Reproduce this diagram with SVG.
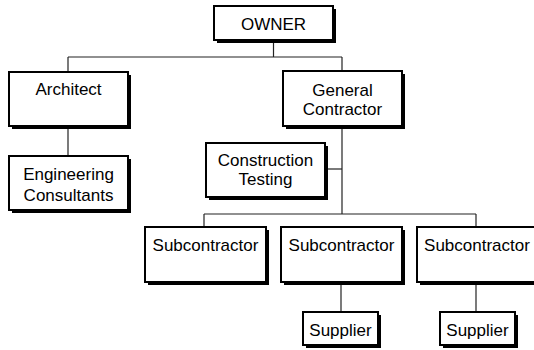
<svg xmlns="http://www.w3.org/2000/svg" width="534" height="350" viewBox="0 0 534 350">
<style>
.sh{fill:#000}
.bx{fill:#fff;stroke:#000;stroke-width:2}
.t{font-family:"Liberation Sans",Arial,sans-serif;font-size:17px;fill:#000;text-anchor:middle}
.c{stroke:#222;stroke-width:1.2;fill:none}
</style>
<rect width="534" height="350" fill="#fff"/>
<g id="connectors">
<line class="c" x1="273.5" y1="40" x2="273.5" y2="57"/>
<line class="c" x1="68" y1="57" x2="342" y2="57"/>
<line class="c" x1="68" y1="57" x2="68" y2="72"/>
<line class="c" x1="342" y1="57" x2="342" y2="71"/>
<line class="c" x1="68" y1="126" x2="68" y2="156"/>
<line class="c" x1="342" y1="126" x2="342" y2="214"/>
<line class="c" x1="325" y1="169" x2="342" y2="169"/>
<line class="c" x1="204" y1="214" x2="476" y2="214"/>
<line class="c" x1="204" y1="214" x2="204" y2="227"/>
<line class="c" x1="476" y1="214" x2="476" y2="227"/>
<line class="c" x1="341" y1="282" x2="341" y2="312"/>
<line class="c" x1="476" y1="282" x2="476" y2="312"/>
</g>
<g id="owner">
<rect class="sh" x="217" y="9" width="119" height="34"/>
<rect class="bx" x="214" y="6" width="119" height="34"/>
<text class="t" x="273.5" y="30">OWNER</text>
</g>
<g id="architect">
<rect class="sh" x="12" y="75" width="119" height="54"/>
<rect class="bx" x="9" y="72" width="119" height="54"/>
<text class="t" x="68.5" y="95">Architect</text>
</g>
<g id="general-contractor">
<rect class="sh" x="286" y="74" width="119" height="55"/>
<rect class="bx" x="283" y="71" width="119" height="55"/>
<text class="t" x="342.5" y="96">General</text>
<text class="t" x="342.5" y="115">Contractor</text>
</g>
<g id="engineering-consultants">
<rect class="sh" x="12" y="159" width="119" height="54"/>
<rect class="bx" x="9" y="156" width="119" height="54"/>
<text class="t" x="68.5" y="180">Engineering</text>
<text class="t" x="68.5" y="201">Consultants</text>
</g>
<g id="construction-testing">
<rect class="sh" x="209" y="146" width="119" height="54"/>
<rect class="bx" x="206" y="143" width="119" height="54"/>
<text class="t" x="265.5" y="166">Construction</text>
<text class="t" x="265.5" y="185">Testing</text>
</g>
<g id="subcontractor-1">
<rect class="sh" x="148" y="230" width="121" height="55"/>
<rect class="bx" x="145" y="227" width="121" height="55"/>
<text class="t" x="205.5" y="251">Subcontractor</text>
</g>
<g id="subcontractor-2">
<rect class="sh" x="284" y="230" width="121" height="55"/>
<rect class="bx" x="281" y="227" width="121" height="55"/>
<text class="t" x="341.5" y="251">Subcontractor</text>
</g>
<g id="subcontractor-3">
<rect class="sh" x="420" y="230" width="121" height="55"/>
<rect class="bx" x="417" y="227" width="121" height="55"/>
<text class="t" x="477" y="251">Subcontractor</text>
</g>
<g id="supplier-1">
<rect class="sh" x="306" y="315" width="75" height="33"/>
<rect class="bx" x="303" y="312" width="75" height="33"/>
<text class="t" x="340.5" y="336">Supplier</text>
</g>
<g id="supplier-2">
<rect class="sh" x="443" y="315" width="75" height="33"/>
<rect class="bx" x="440" y="312" width="75" height="33"/>
<text class="t" x="477.5" y="336">Supplier</text>
</g>
</svg>
